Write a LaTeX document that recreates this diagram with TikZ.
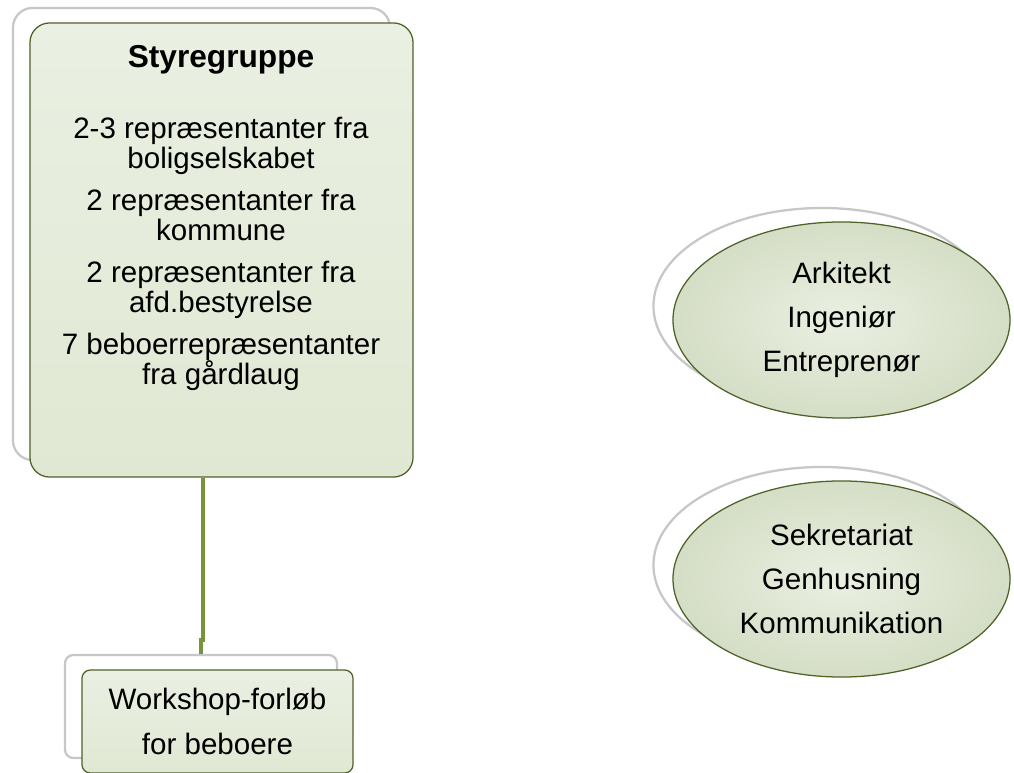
\documentclass[tikz,border=0pt]{standalone}
\usepackage{fontspec}
\setmainfont{Liberation Sans}
\usetikzlibrary{positioning, shapes}
\definecolor{paleolive}{RGB}{224,232,211}
\definecolor{lightolive}{RGB}{234,240,226}
\definecolor{darkolive}{RGB}{79,98,40}
\definecolor{lineolive}{RGB}{119,147,60}

\begin{document}
\begin{tikzpicture}[x=0.025cm, y=-0.025cm]
    \tikzstyle{backbox} = [rectangle, draw=black!22, line width=1.6pt, fill=white]
    \tikzstyle{frontbox} = [rectangle, draw=darkolive, line width=0.9pt, top color=lightolive, bottom color=paleolive]
    \tikzstyle{backoval} = [ellipse, draw=black!22, line width=1.6pt, fill=white, inner sep=0]
    \tikzstyle{frontoval} = [ellipse, draw=darkolive, line width=0.9pt, inner color=lightolive, outer color=paleolive!92!darkolive, align=center, inner sep=0, font=\fontsize{21}{31.3}\selectfont]
    \tikzstyle{link} = [draw=lineolive, line width=2.2pt]
    \useasboundingbox (0,0) rectangle (1014,773);

\node[backbox, rounded corners=14pt, minimum width=9.425cm, minimum height=11.3cm] (styback) at (201.5,234) {};
\node[frontbox, rounded corners=14pt, minimum width=9.575cm, minimum height=11.35cm] (sty) at (221.5,250) {};
\node[anchor=north, align=center, inner sep=0, font=\fontsize{21}{21.3}\selectfont] (stytext) at (221,45) {%
    {\bfseries\fontsize{22.5}{24}\selectfont Styregruppe}\\[29pt]
    2-3 repræsentanter fra\\ boligselskabet\\[8.6pt]
    2 repræsentanter fra\\ kommune\\[8.6pt]
    2 repræsentanter fra\\ afd.bestyrelse\\[8.6pt]
    7 beboerrepræsentanter\\ fra gårdlaug};

\coordinate (jog) at (203,640);
\node[backbox, rounded corners=6pt, minimum width=6.8cm, minimum height=2.575cm] (wsback) at (201,706.5) {};
\draw[link] (jog |- sty.south) -- (jog) -| (wsback.north);
\node[frontbox, rounded corners=6pt, minimum width=6.775cm, minimum height=2.575cm, align=center, font=\fontsize{21}{32}\selectfont] (ws) at (217.5,721.5) {Workshop-forløb\\ for beboere};

\node[backoval, minimum width=8.425cm, minimum height=4.9cm] (arkback) at (822,306) {};
\node[frontoval, minimum width=8.425cm, minimum height=4.9cm] (ark) at (841.5,320) {Arkitekt\\ Ingeniør\\ Entreprenør};

\node[backoval, minimum width=8.425cm, minimum height=4.9cm] (sekback) at (822,565) {};
\node[frontoval, minimum width=8.425cm, minimum height=4.9cm] (sek) at (841.5,579) {Sekretariat\\ Genhusning\\ Kommunikation};
\end{tikzpicture}
\end{document}
